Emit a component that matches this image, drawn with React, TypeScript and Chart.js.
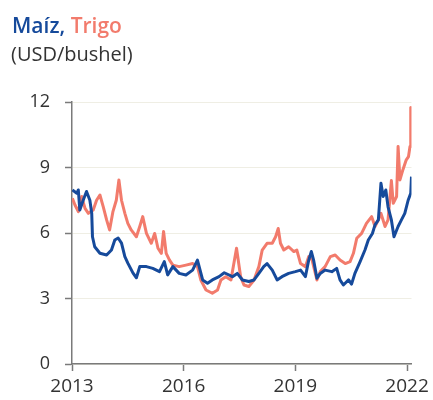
import React, { useEffect, useRef } from "react";
import { Chart, registerables } from "chart.js";

Chart.register(...registerables);

const titleCorn = "Maíz";
const titleWheat = "Trigo";
const subtitle = "(USD/bushel)";

const xTicks = [2013, 2016, 2019, 2022];
const yTicks = [0, 3, 6, 9, 12];

const cornYears = [
  2013.01, 2013.13, 2013.17, 2013.21, 2013.3, 2013.39, 2013.48, 2013.53, 2013.55, 2013.61,
  2013.75, 2013.93, 2014.06, 2014.15, 2014.24, 2014.33, 2014.42, 2014.5, 2014.64, 2014.73,
  2014.82, 2015.0, 2015.17, 2015.35, 2015.48, 2015.57, 2015.71, 2015.88, 2016.06, 2016.24,
  2016.37, 2016.51, 2016.64, 2016.77, 2016.95, 2017.09, 2017.31, 2017.44, 2017.58, 2017.75,
  2017.89, 2018.02, 2018.15, 2018.24, 2018.38, 2018.51, 2018.64, 2018.82, 2019.0, 2019.14,
  2019.27, 2019.36, 2019.43, 2019.49, 2019.58, 2019.67, 2019.8, 2019.98, 2020.11, 2020.2,
  2020.29, 2020.43, 2020.51, 2020.6, 2020.74, 2020.87, 2020.96, 2021.07, 2021.14, 2021.23,
  2021.3, 2021.36, 2021.43, 2021.49, 2021.58, 2021.65, 2021.76, 2021.85, 2021.94, 2022.03,
  2022.1, 2022.12,
];
const cornValues = [
  7.97, 7.82, 7.97, 7.05, 7.5, 7.9, 7.5, 6.9, 5.83, 5.37,
  5.07, 4.99, 5.22, 5.68, 5.77, 5.54, 4.92, 4.62, 4.16, 3.95,
  4.46, 4.46, 4.38, 4.23, 4.69, 4.08, 4.46, 4.15, 4.08, 4.3,
  4.76, 3.85, 3.7, 3.85, 4.0, 4.18, 4.0, 4.15, 3.85, 3.78,
  3.85, 4.15, 4.46, 4.6, 4.3, 3.85, 4.0, 4.15, 4.23, 4.3,
  4.0, 4.76, 5.15, 4.76, 3.93, 4.15, 4.3, 4.23, 4.38, 3.85,
  3.62, 3.85, 3.66, 4.15, 4.69, 5.22, 5.68, 5.98, 6.37, 6.6,
  8.28, 7.67, 7.97, 7.2, 6.6, 5.83, 6.3, 6.6, 6.9, 7.5,
  7.82, 8.58,
];

const wheatYears = [
  2013.01, 2013.08, 2013.17, 2013.26, 2013.35, 2013.44, 2013.57, 2013.66, 2013.75, 2013.84,
  2013.93, 2014.01, 2014.1, 2014.19, 2014.26, 2014.33, 2014.42, 2014.5, 2014.59, 2014.73,
  2014.82, 2014.9, 2015.0, 2015.13, 2015.22, 2015.31, 2015.4, 2015.46, 2015.53, 2015.62,
  2015.71, 2015.88, 2016.06, 2016.24, 2016.37, 2016.46, 2016.6, 2016.77, 2016.91, 2017.0,
  2017.13, 2017.27, 2017.42, 2017.53, 2017.62, 2017.75, 2017.89, 2018.02, 2018.11, 2018.24,
  2018.38, 2018.47, 2018.54, 2018.6, 2018.69, 2018.82, 2018.96, 2019.04, 2019.14, 2019.27,
  2019.36, 2019.45, 2019.58, 2019.67, 2019.8, 2019.94, 2020.07, 2020.2, 2020.34, 2020.47,
  2020.56, 2020.65, 2020.78, 2020.91, 2021.05, 2021.14, 2021.23, 2021.3, 2021.41, 2021.49,
  2021.58, 2021.63, 2021.72, 2021.76, 2021.81, 2021.89, 2021.98, 2022.04, 2022.08, 2022.1,
  2022.12,
];
const wheatValues = [
  7.59, 7.28, 6.98, 7.67, 7.13, 6.9, 7.05, 7.5, 7.74, 7.2,
  6.6, 6.14, 6.98, 7.5, 8.43, 7.5, 6.9, 6.44, 6.14, 5.83,
  6.3, 6.75, 5.98, 5.53, 5.98, 5.3, 5.07, 6.07, 5.07, 4.76,
  4.53, 4.46, 4.53, 4.6, 4.46, 3.85, 3.39, 3.24, 3.39, 3.85,
  4.0, 3.85, 5.3, 4.0, 3.62, 3.55, 3.85, 4.46, 5.22, 5.53,
  5.53, 5.83, 6.21, 5.53, 5.22, 5.37, 5.15, 5.22, 4.6, 4.46,
  4.92, 4.76, 3.85, 4.23, 4.46, 4.92, 4.99, 4.76, 4.6, 4.69,
  5.07, 5.76, 5.98, 6.44, 6.75, 6.3, 6.6, 6.9, 6.3, 6.6,
  8.4, 7.36, 7.67, 9.96, 8.43, 8.9, 9.35, 9.5, 9.96, 11.75,
  10.0,
];

const CORN_COLOR = "#164a9b";
const WHEAT_COLOR = "#f27b6c";

export default function App() {
  const canvasRef = useRef<HTMLCanvasElement | null>(null);

  useEffect(() => {
    if (!canvasRef.current) return;
    const chart = new Chart(canvasRef.current, {
      type: "line",
      data: {
        datasets: [
          {
            label: titleCorn,
            data: cornYears.map((x, i) => ({ x, y: cornValues[i] })),
            borderColor: CORN_COLOR,
            backgroundColor: CORN_COLOR,
            borderWidth: 3,
            pointRadius: 0,
            tension: 0,
            borderJoinStyle: "round",
          },
          {
            label: titleWheat,
            data: wheatYears.map((x, i) => ({ x, y: wheatValues[i] })),
            borderColor: WHEAT_COLOR,
            backgroundColor: WHEAT_COLOR,
            borderWidth: 3,
            pointRadius: 0,
            tension: 0,
            borderJoinStyle: "round",
          },
        ],
      },
      options: {
        responsive: false,
        animation: false,
        layout: { padding: { top: 102, right: 19, left: 0, bottom: 0 } },
        plugins: {
          legend: { display: false },
          title: { display: false },
          tooltip: { enabled: false },
        },
        scales: {
          x: {
            type: "linear",
            min: 2013,
            max: 2022.12,
            afterBuildTicks: (scale: any) => {
              scale.ticks = xTicks.map((v) => ({ value: v }));
            },
            afterFit: (scale: any) => {
              scale.height = 36;
            },
            ticks: {
              callback: (v: any) => String(v),
              font: { family: "'Open Sans', sans-serif", size: 19 },
              color: "#333333",
              padding: 4,
              maxRotation: 0,
              autoSkip: false,
            },
            grid: {
              drawOnChartArea: false,
              drawTicks: true,
              tickLength: 7,
              tickColor: "#7a7a7a",
              tickWidth: 1.5,
            },
            border: { color: "#7a7a7a", width: 1.5 },
          },
          y: {
            type: "linear",
            min: 0,
            max: 12,
            afterBuildTicks: (scale: any) => {
              scale.ticks = yTicks.map((v) => ({ value: v }));
            },
            afterFit: (scale: any) => {
              scale.width = 72;
            },
            ticks: {
              callback: (v: any) => String(v),
              font: { family: "'Open Sans', sans-serif", size: 18 },
              color: "#333333",
              padding: 15,
            },
            grid: {
              color: "#efeee4",
              lineWidth: 1,
              drawTicks: true,
              tickLength: 7,
              tickColor: "#7a7a7a",
              tickWidth: 1.5,
            },
            border: { color: "#7a7a7a", width: 1.5 },
          },
        },
      },
    });
    return () => chart.destroy();
  }, []);

  return (
    <div style={{ position: "absolute", left: 0, top: 0, width: 433, height: 400, background: "#ffffff" }}>
      <canvas ref={canvasRef} width={433} height={400} style={{ position: "absolute", left: 0, top: 0 }} />
      <div
        style={{
          position: "absolute",
          left: 12,
          top: 13,
          fontFamily: "'Open Sans', sans-serif",
          fontWeight: 600,
          fontSize: 21,
          lineHeight: "24px",
          whiteSpace: "nowrap",
        }}
      >
        <span style={{ color: CORN_COLOR }}>{titleCorn},</span>{" "}
        <span style={{ color: WHEAT_COLOR }}>{titleWheat}</span>
      </div>
      <div
        style={{
          position: "absolute",
          left: 11,
          top: 42,
          fontFamily: "'Open Sans', sans-serif",
          fontWeight: 400,
          fontSize: 20,
          lineHeight: "24px",
          color: "#333333",
          whiteSpace: "nowrap",
        }}
      >
        {subtitle}
      </div>
    </div>
  );
}
